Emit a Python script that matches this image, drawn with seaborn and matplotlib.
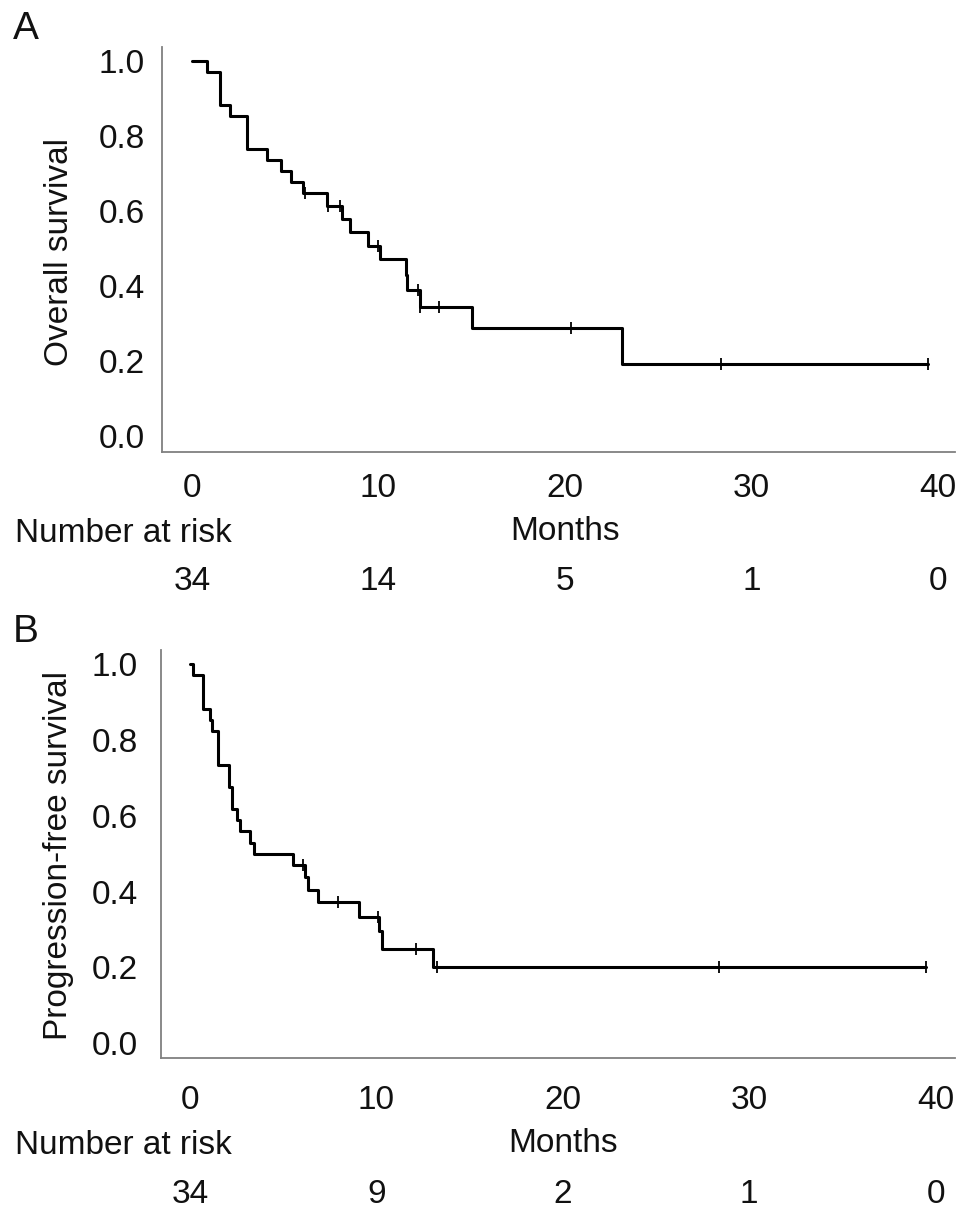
import numpy as np
import pandas as pd
import matplotlib
matplotlib.use("Agg")
import matplotlib.pyplot as plt
import seaborn as sns
from matplotlib.transforms import blended_transform_factory

# ---------------- data ----------------
# Panel A: overall survival (step curve: value holds from each time onward)
os_time = [0, 0.79, 1.5, 2.04, 2.93, 4.0, 4.8, 5.3, 5.97, 7.26, 8.03, 8.48,
           9.46, 10.09, 11.48, 11.55, 12.23, 15.0, 23.05, 39.5]
os_surv = [1.0, 0.971, 0.882, 0.853, 0.765, 0.735, 0.706, 0.676, 0.647, 0.612,
           0.578, 0.543, 0.507, 0.471, 0.429, 0.388, 0.343, 0.287, 0.191, 0.191]
os_cens_time = [6.06, 7.3, 7.94, 9.98, 12.14, 12.25, 13.25, 20.33, 28.4, 39.5]
os_cens_surv = [0.647, 0.612, 0.612, 0.507, 0.388, 0.343, 0.343, 0.287, 0.191, 0.191]

# Panel B: progression-free survival
pfs_time = [0, 0.14, 0.68, 1.07, 1.16, 1.52, 2.09, 2.23, 2.5, 2.68, 3.22, 3.43,
            5.51, 6.17, 6.35, 6.88, 9.07, 10.15, 10.3, 13.05, 39.5]
pfs_surv = [1.0, 0.971, 0.882, 0.853, 0.824, 0.735, 0.676, 0.618, 0.588, 0.559,
            0.529, 0.5, 0.471, 0.439, 0.404, 0.372, 0.334, 0.295, 0.25, 0.2, 0.2]
pfs_cens_time = [6.05, 7.96, 10.1, 12.1, 13.25, 28.4, 39.5]
pfs_cens_surv = [0.471, 0.372, 0.334, 0.25, 0.2, 0.2, 0.2]

risk_times = [0, 10, 20, 30, 40]
os_at_risk = [34, 14, 5, 1, 0]
pfs_at_risk = [34, 9, 2, 1, 0]

x_ticks = [0, 10, 20, 30, 40]
y_ticks = [0.0, 0.2, 0.4, 0.6, 0.8, 1.0]

# ---------------- style ----------------
sns.set_style("white")
plt.rcParams["font.family"] = ["Liberation Sans", "DejaVu Sans"]

W, H = 969, 1215
FS = 24
GRAY = "#808080"

fig = plt.figure(figsize=(W / 100, H / 100), dpi=100)


def fy(px):
    return 1 - px / H


def panel(rect, t, s, ct, cs, xlim, ylim, ylabel, xpad, ypad, letter, letter_y,
          label_y, nar_y, months_y, num_y, risk):
    ax = fig.add_axes(rect)
    df = pd.DataFrame({"t": t, "s": s})
    sns.lineplot(data=df, x="t", y="s", drawstyle="steps-post", estimator=None,
                 sort=False, color="black", linewidth=2.2, ax=ax)
    dc = pd.DataFrame({"t": ct, "s": cs})
    sns.scatterplot(data=dc, x="t", y="s", marker="|", s=80, linewidth=1.3,
                    color="black", ax=ax, zorder=3)
    ax.set_xlim(*xlim)
    ax.set_ylim(*ylim)
    ax.set_xticks(x_ticks)
    ax.set_yticks(y_ticks)
    ax.set_yticklabels([f"{v:.1f}" for v in y_ticks])
    ax.set_xlabel("")
    ax.set_ylabel("")
    for side in ("top", "right"):
        ax.spines[side].set_visible(False)
    for side in ("left", "bottom"):
        ax.spines[side].set_color(GRAY)
        ax.spines[side].set_linewidth(1.3)
    ax.tick_params(axis="both", direction="out", length=6.5, width=1.1,
                   color=GRAY, labelsize=FS, labelcolor="#111111")
    ax.tick_params(axis="x", pad=xpad)
    ax.tick_params(axis="y", pad=ypad)
    ax.grid(False)

    fig.text(59 / W, fy(label_y), ylabel, rotation=90, ha="center", va="center",
             fontsize=FS, color="#111111")
    fig.text(26 / W, fy(letter_y), letter, ha="center", va="center",
             fontsize=28, color="#111111")
    fig.text(15 / W, fy(nar_y), "Number at risk", ha="left", va="baseline",
             fontsize=FS, color="#111111")
    tr = blended_transform_factory(ax.transData, fig.transFigure)
    fig.text(20, fy(months_y), "Months", ha="center", va="baseline",
             fontsize=FS, color="#111111", transform=tr)
    for xt, n in zip(risk_times, risk):
        fig.text(xt, fy(num_y), str(n), ha="center", va="baseline",
                 fontsize=FS, color="#111111", transform=tr)
    return ax


panel([162 / W, fy(452), 793 / W, 405 / H], os_time, os_surv,
      os_cens_time, os_cens_surv, (-1.61, 40.93), (-0.0427, 1.037),
      "Overall survival", 8.5, 5.8, "A", 29, 252, 541.5, 540, 590, os_at_risk)

panel([161 / W, fy(1058), 794 / W, 408 / H], pfs_time, pfs_surv,
      pfs_cens_time, pfs_cens_surv, (-1.556, 41.04), (-0.039, 1.038),
      "Progression-free survival", 12.7, 10, "B", 632, 856, 1153.7, 1152,
      1202.7, pfs_at_risk)

fig.savefig("out.png", dpi=100, facecolor="white")
